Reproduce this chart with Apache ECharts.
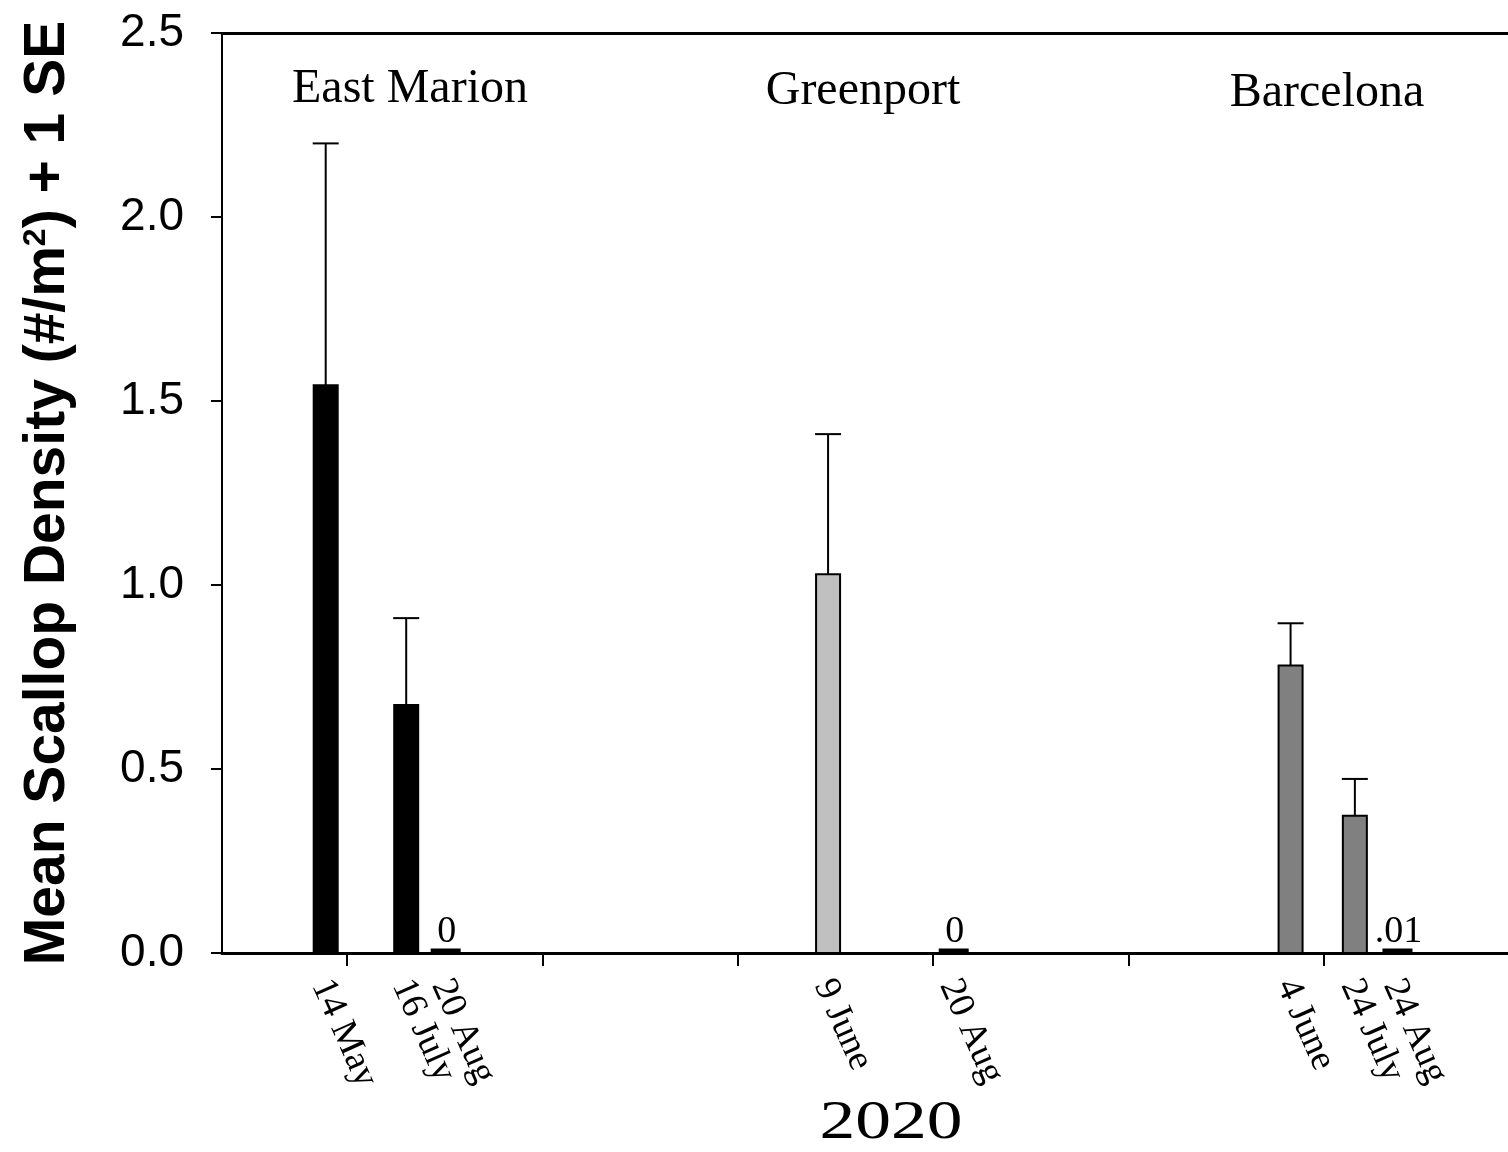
<!DOCTYPE html>
<html><head><meta charset="utf-8">
<script src="https://cdn.jsdelivr.net/npm/echarts@6/dist/echarts.min.js"></script>
<style>html,body{margin:0;padding:0;background:#fff}#chart{width:1508px;height:1152px}</style>
</head><body><div id="chart"></div>
<script>
// ---- data ----
const sites = ['East Marion', 'Greenport', 'Barcelona'];
const dates = ['14 May', '16 July', '20 Aug', '9 June', '20 Aug', '4 June', '24 July', '24 Aug'];
const siteOf = [0, 0, 0, 1, 1, 2, 2, 2];
const means = [1.543, 0.674, 0, 1.029, 0, 0.781, 0.373, 0.01];
const ses = [0.657, 0.236, null, 0.381, null, 0.115, 0.100, null];
const valueLabels = [null, null, '0', null, '0', null, null, '.01'];
const yearLabel = '2020';
const yTitle = ['Mean Scallop Density (#/m', '2', ') + 1 SE'];

// ---- layout (positions on the x scale, not data) ----
const xPos = [0.891, 1.303, 1.505, 3.462, 4.105, 5.829, 6.158, 6.376];
const xTicks = [1, 2, 3, 4, 5, 6];
const xMin = 0.3603, xMax = 6.9417;
const siteColors = ['#000000', '#c0c0c0', '#808080'];
const SERIF = '"Liberation Serif", "Times New Roman", serif';
const SANS = '"Liberation Sans", Arial, sans-serif';

const barData = means.map((m, i) => [xPos[i], m, i]);
const errData = means.map((m, i) => ses[i] == null ? null : [xPos[i], m, m + ses[i], i]).filter(d => d);

function renderBar(params, api) {
  const i = api.value(2);
  const x = api.value(0), y = api.value(1);
  const base = api.coord([x, 0]);
  const top = api.coord([x, y]);
  const small = y < 0.05;
  const children = [];
  let barTop;
  if (small) {
    const w = 30;
    const h = Math.max(base[1] - top[1], 4.5);
    barTop = base[1] - h;
    children.push({ type: 'rect', shape: { x: base[0] - w / 2, y: barTop, width: w, height: h }, style: { fill: '#000' } });
  } else {
    const w = 24;
    barTop = top[1];
    children.push({ type: 'rect', shape: { x: base[0] - w / 2, y: top[1], width: w, height: base[1] - top[1] }, style: { fill: siteColors[siteOf[i]], stroke: '#000', lineWidth: 2 } });
  }
  if (valueLabels[i]) {
    children.push({ type: 'text', x: base[0] + 1, y: barTop + 3, style: { text: valueLabels[i], font: '38px ' + SERIF, fill: '#000', align: 'center', verticalAlign: 'bottom' } });
  }
  children.push({ type: 'text', x: base[0] - 5, y: base[1] + 28, rotation: -66 * Math.PI / 180,
    style: { text: dates[i], font: '37px ' + SERIF, fill: '#000', align: 'left', verticalAlign: 'middle' } });
  return { type: 'group', children };
}

function renderErr(params, api) {
  const x = api.value(0);
  const p0 = api.coord([x, api.value(1)]);
  const p1 = api.coord([x, api.value(2)]);
  const cw = 26;
  return { type: 'group', children: [
    { type: 'line', shape: { x1: p0[0], y1: p0[1], x2: p1[0], y2: p1[1] }, style: { stroke: '#000', lineWidth: 2 } },
    { type: 'line', shape: { x1: p1[0] - cw / 2, y1: p1[1], x2: p1[0] + cw / 2, y2: p1[1] }, style: { stroke: '#000', lineWidth: 2 } }
  ] };
}

const chart = echarts.init(document.getElementById('chart'), null, { renderer: 'canvas' });
chart.setOption({
  animation: false,
  backgroundColor: '#fff',
  grid: { left: 222, right: 0, top: 33, bottom: 199, containLabel: false },
  xAxis: [
    { type: 'value', min: xMin, max: xMax, position: 'bottom',
      axisLine: { show: true, onZero: false, lineStyle: { color: '#000', width: 3 } },
      axisTick: { show: true, customValues: xTicks, length: 13, lineStyle: { color: '#000', width: 2 } },
      axisLabel: { show: false }, splitLine: { show: false } },
    { type: 'value', min: xMin, max: xMax, position: 'top',
      axisLine: { show: true, onZero: false, lineStyle: { color: '#000', width: 3 } },
      axisTick: { show: false }, axisLabel: { show: false }, splitLine: { show: false } }
  ],
  yAxis: {
    type: 'value', min: 0, max: 2.5, interval: 0.5,
    axisLine: { show: true, onZero: false, lineStyle: { color: '#000', width: 2 } },
    axisTick: { show: true, length: 11, lineStyle: { color: '#000', width: 2 } },
    axisLabel: { fontFamily: SANS, fontSize: 46, color: '#000', margin: 38, formatter: v => v.toFixed(1) },
    splitLine: { show: false },
    name: '{a|' + yTitle[0] + '}{s|' + yTitle[1] + '}{a|' + yTitle[2] + '}',
    nameLocation: 'middle', nameRotate: 90, nameGap: 145,
    nameTextStyle: {
      rich: {
        a: { fontFamily: SANS, fontWeight: 'bold', fontSize: 57, color: '#000' },
        s: { fontFamily: SANS, fontWeight: 'bold', fontSize: 32, color: '#000', verticalAlign: 'top' }
      }
    }
  },
  graphic: [
    { type: 'text', x: 410, y: 89, style: { text: sites[0], font: '48px ' + SERIF, fill: '#000', align: 'center', verticalAlign: 'middle' } },
    { type: 'text', x: 863, y: 91, style: { text: sites[1], font: '48px ' + SERIF, fill: '#000', align: 'center', verticalAlign: 'middle' } },
    { type: 'text', x: 1327, y: 93, style: { text: sites[2], font: '48px ' + SERIF, fill: '#000', align: 'center', verticalAlign: 'middle' } },
    { type: 'text', x: 891, y: 1124, scaleX: 1.3, style: { text: yearLabel, font: '55px ' + SERIF, fill: '#000', align: 'center', verticalAlign: 'middle' } }
  ],
  series: [
    { type: 'custom', name: 'bars', xAxisIndex: 0, yAxisIndex: 0, clip: false, renderItem: renderBar, data: barData, z: 2 },
    { type: 'custom', name: 'se', xAxisIndex: 0, yAxisIndex: 0, clip: false, renderItem: renderErr, data: errData, z: 1 }
  ]
});
</script>
</body></html>
